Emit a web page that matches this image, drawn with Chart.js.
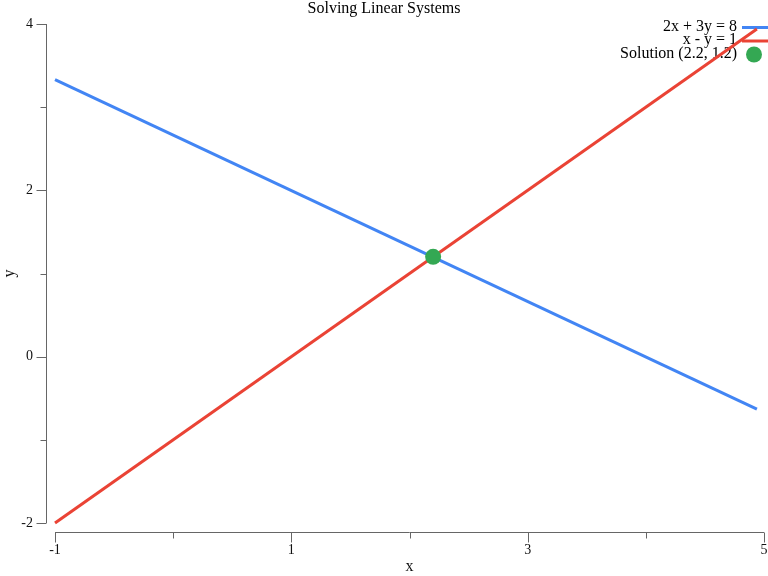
<!DOCTYPE html>
<html lang="en">
<head>
  <meta charset="UTF-8" />
  <title>Solving Linear Systems</title>
  <script src="https://cdn.jsdelivr.net/npm/chart.js"></script>
  <style>
    body {
      margin: 0;
      background: #fff;
    }
  </style>
</head>
<body>

<canvas id="linChart" width="768" height="576"></canvas>

<script>
  // line 2x + 3y = 8
  const blueX = [-1, 4.94];
  const blueY = [3.33, -0.63];
  // line x - y = 1
  const redX = [-1, 4.94];
  const redY = [-2, 3.94];
  // intersection
  const solX = [2.2];
  const solY = [1.2];

  const labels = ['2x + 3y = 8', 'x - y = 1', 'Solution (2.2, 1.2)'];

  const xTickValues = [-1, 0, 1, 2, 3, 4, 5];
  const xTickLabels = ['-1', '', '1', '', '3', '', '5'];
  const yTickValues = [-2, -1, 0, 1, 2, 3, 4];
  const yTickLabels = ['-2', '', '0', '', '2', '', '4'];

  const toPoints = (xs, ys) => xs.map((x, i) => ({ x: x, y: ys[i] }));

  const AXIS_COLOR = '#666';
  const AXIS_GAP = 9; // axes sit a little away from the plot
  const FONT = 'Liberation Serif';

  // d3-like offset axes: domain line plus long/short ticks
  const axisPlugin = {
    id: 'axisLines',
    beforeDatasetsDraw(chart) {
      const ctx = chart.ctx;
      const xs = chart.scales.x;
      const ys = chart.scales.y;
      const area = chart.chartArea;
      ctx.save();
      ctx.strokeStyle = AXIS_COLOR;
      ctx.lineWidth = 1;
      ctx.beginPath();
      const ax = Math.round(area.left - AXIS_GAP) + 0.5;
      ctx.moveTo(ax, ys.getPixelForValue(yTickValues[yTickValues.length - 1]));
      ctx.lineTo(ax, ys.getPixelForValue(yTickValues[0]));
      yTickValues.forEach((v, i) => {
        const py = Math.round(ys.getPixelForValue(v)) + 0.5;
        const len = yTickLabels[i] ? 10 : 6;
        ctx.moveTo(ax, py);
        ctx.lineTo(ax - len, py);
      });
      const ay = Math.round(area.bottom + AXIS_GAP) + 0.5;
      ctx.moveTo(xs.getPixelForValue(xTickValues[0]), ay);
      ctx.lineTo(xs.getPixelForValue(xTickValues[xTickValues.length - 1]), ay);
      xTickValues.forEach((v, i) => {
        const px = Math.round(xs.getPixelForValue(v)) + 0.5;
        const len = xTickLabels[i] ? 10 : 6;
        ctx.moveTo(px, ay);
        ctx.lineTo(px, ay + len);
      });
      ctx.stroke();
      ctx.restore();
    }
  };

  // legend at the top right: text, then its symbol
  const legendPlugin = {
    id: 'cornerLegend',
    beforeDatasetsDraw(chart) {
      const ctx = chart.ctx;
      const right = chart.chartArea.right;
      ctx.save();
      ctx.font = '16px "' + FONT + '"';
      ctx.textAlign = 'right';
      ctx.textBaseline = 'middle';
      chart.data.datasets.forEach((ds, i) => {
        const y = 27.5 + i * 13.5;
        ctx.fillStyle = '#000';
        ctx.fillText(ds.label, right - 27, y - 1);
        if (ds.showLine) {
          ctx.strokeStyle = ds.borderColor;
          ctx.lineWidth = 3;
          ctx.beginPath();
          ctx.moveTo(right - 22, y);
          ctx.lineTo(right + 4, y);
          ctx.stroke();
        } else {
          ctx.fillStyle = ds.backgroundColor;
          ctx.beginPath();
          ctx.arc(right - 10, y, 8, 0, Math.PI * 2);
          ctx.fill();
        }
      });
      ctx.restore();
    }
  };

  Chart.defaults.font.family = FONT;

  const ctx = document.getElementById('linChart').getContext('2d');
  const linChart = new Chart(ctx, {
    type: 'scatter',
    data: {
      datasets: [
        {
          label: labels[0],
          data: toPoints(blueX, blueY),
          showLine: true,
          borderColor: '#4285F4',
          borderWidth: 3,
          pointRadius: 0,
          order: 2
        },
        {
          label: labels[1],
          data: toPoints(redX, redY),
          showLine: true,
          borderColor: '#EA4335',
          borderWidth: 3,
          pointRadius: 0,
          order: 1
        },
        {
          label: labels[2],
          data: toPoints(solX, solY),
          showLine: false,
          backgroundColor: '#34A853',
          borderWidth: 0,
          pointRadius: 8,
          order: 0
        }
      ]
    },
    options: {
      responsive: false,
      animation: false,
      clip: false,
      layout: {
        autoPadding: false,
        padding: { top: 0, right: 4, bottom: 0, left: 4 }
      },
      scales: {
        x: {
          type: 'linear',
          min: -1,
          max: 5,
          afterBuildTicks: s => { s.ticks = xTickValues.map(v => ({ value: v })); },
          afterFit: s => { s.height = 53; s.paddingLeft = 0; s.paddingRight = 0; },
          grid: { display: false },
          border: { display: false },
          ticks: {
            autoSkip: false,
            maxRotation: 0,
            padding: 11,
            color: '#111',
            font: { size: 14 },
            callback: v => xTickLabels[xTickValues.indexOf(v)]
          },
          title: {
            display: true,
            text: 'x',
            color: '#111',
            font: { size: 16 },
            padding: { top: 0, bottom: 0 }
          }
        },
        y: {
          type: 'linear',
          min: -2,
          max: 4,
          afterBuildTicks: s => { s.ticks = yTickValues.map(v => ({ value: v })); },
          afterFit: s => { s.width = 51; s.paddingTop = 0; s.paddingBottom = 0; },
          grid: { display: false },
          border: { display: false },
          ticks: {
            autoSkip: false,
            padding: 14,
            color: '#111',
            font: { size: 14 },
            callback: v => yTickLabels[yTickValues.indexOf(v)]
          },
          title: {
            display: true,
            text: 'y',
            color: '#111',
            font: { size: 16 },
            padding: { top: -4, bottom: 0 }
          }
        }
      },
      plugins: {
        legend: { display: false },
        tooltip: { enabled: false },
        title: {
          display: true,
          text: 'Solving Linear Systems',
          color: '#000',
          font: { size: 16, weight: 'normal' },
          padding: { top: -1, bottom: 5.8 }
        }
      }
    },
    plugins: [axisPlugin, legendPlugin]
  });
</script>

</body>
</html>
